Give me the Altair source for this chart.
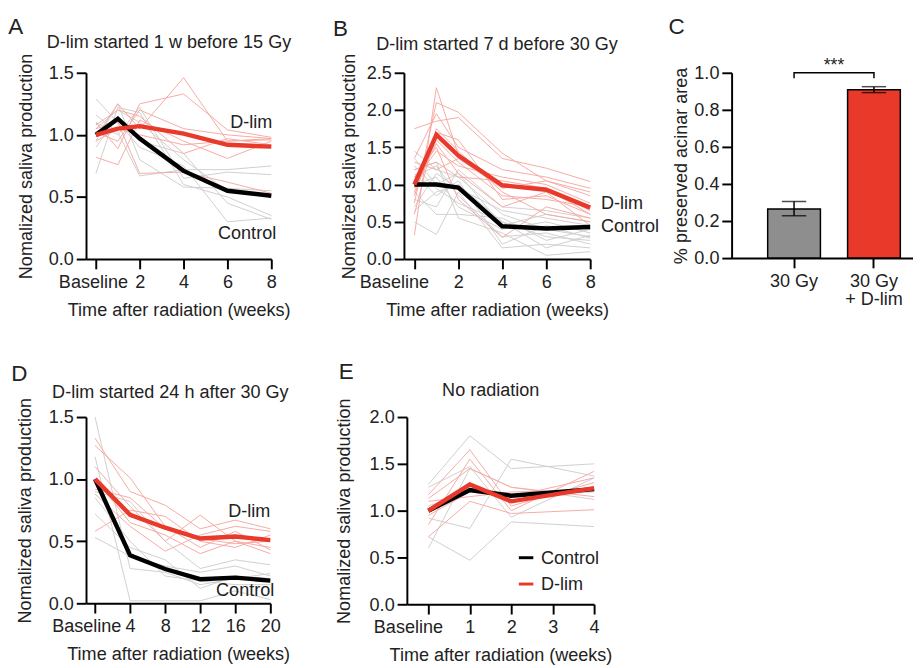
import altair as alt
import pandas as pd

FONT = "Liberation Sans"
FS = 18.5
RED = "#e8392b"
THIN_RED = "#f6aaa4"
THIN_GRAY = "#cfcfcf"
GRAY_BAR = "#8e8e8e"
TXT = "#222222"

# ---------------- Panel A ----------------
a_weeks = [0, 1, 2, 4, 6, 8]
a_ctrl_mean = [1.0, 1.13, 0.97, 0.71, 0.55, 0.51]
a_dlim_mean = [1.0, 1.05, 1.07, 1.01, 0.92, 0.905]
a_ctrl_mice = [
    [1.29, 1.10, 0.90, 0.75, 0.30, 0.33],
    [0.69, 1.22, 1.18, 0.60, 0.50, 0.35],
    [1.16, 1.02, 0.67, 0.72, 0.72, 0.75],
    [0.95, 1.25, 0.80, 0.58, 0.57, 0.55],
    [1.10, 1.00, 1.22, 0.65, 0.70, 0.68],
    [0.90, 1.15, 0.95, 0.85, 0.45, 0.32],
    [1.05, 1.20, 1.10, 0.80, 0.55, 0.52],
]
a_dlim_mice = [
    [0.98, 1.25, 1.05, 1.46, 0.95, 0.97],
    [1.10, 0.89, 1.25, 1.33, 1.04, 0.98],
    [0.82, 0.76, 1.12, 0.95, 0.81, 0.95],
    [1.05, 1.10, 0.69, 0.70, 0.62, 0.53],
    [1.08, 1.20, 1.15, 0.85, 0.97, 0.92],
    [0.95, 1.05, 1.00, 0.92, 0.95, 0.96],
    [1.02, 0.95, 1.20, 1.05, 1.00, 0.97],
]

# ---------------- Panel B ----------------
b_weeks = [0, 1, 2, 4, 6, 8]
b_ctrl_mean = [1.0, 1.0, 0.96, 0.44, 0.41, 0.43]
b_dlim_mean = [1.0, 1.67, 1.39, 0.99, 0.93, 0.69]
b_ctrl_mice = [
    [1.45, 1.20, 1.10, 0.60, 0.40, 0.30],
    [0.50, 0.33, 0.90, 0.15, 0.20, 0.15],
    [1.20, 1.30, 0.55, 0.35, 0.05, 0.10],
    [0.80, 0.70, 1.20, 0.70, 0.65, 0.55],
    [1.00, 1.10, 0.70, 0.40, 0.50, 0.35],
    [0.65, 0.90, 1.00, 0.50, 0.30, 0.25],
    [1.35, 1.00, 1.15, 0.45, 0.60, 0.50],
    [1.10, 1.25, 0.85, 0.30, 0.35, 0.20],
    [0.90, 0.60, 0.60, 0.55, 0.25, 0.40],
    [1.15, 0.85, 1.05, 0.20, 0.45, 0.28],
    [0.70, 1.15, 0.95, 0.65, 0.55, 0.45],
    [1.25, 0.95, 0.75, 0.50, 0.15, 0.32],
]
b_dlim_mice = [
    [0.32, 2.30, 1.40, 1.00, 0.95, 0.60],
    [0.75, 2.10, 1.97, 1.42, 1.05, 0.90],
    [1.75, 1.85, 1.90, 1.35, 1.22, 1.04],
    [1.35, 1.95, 1.50, 1.20, 1.10, 0.95],
    [1.10, 1.50, 0.80, 0.29, 0.70, 0.55],
    [0.90, 1.60, 1.30, 0.85, 0.80, 0.70],
    [1.20, 1.30, 1.10, 1.05, 0.95, 0.65],
    [0.60, 1.75, 1.45, 0.90, 0.60, 0.50],
    [1.05, 1.45, 1.25, 1.10, 1.00, 0.75],
    [0.85, 1.70, 1.60, 0.80, 0.85, 0.60],
    [1.30, 1.20, 1.35, 0.95, 1.05, 0.85],
    [0.95, 1.55, 1.15, 0.70, 0.90, 0.45],
]

# ---------------- Panel C ----------------
c_groups = ["30 Gy", "30 Gy + D-lim"]
c_means = [0.265, 0.908]
c_err_lo = [0.228, 0.893]
c_err_hi = [0.305, 0.925]
c_fills = [GRAY_BAR, RED]

# ---------------- Panel D ----------------
d_weeks = [0, 4, 8, 12, 16, 20]
d_ctrl_mean = [1.0, 0.386, 0.276, 0.194, 0.207, 0.183]
d_dlim_mean = [1.0, 0.713, 0.609, 0.522, 0.538, 0.509]
d_ctrl_mice = [
    [1.50, 0.28, 0.25, 0.15, 0.20, 0.24],
    [1.18, 0.02, 0.02, 0.02, 0.10, 0.03],
    [0.90, 0.82, 0.50, 0.28, 0.35, 0.31],
    [0.72, 0.45, 0.35, 0.12, 0.22, 0.20],
    [0.53, 0.38, 0.30, 0.25, 0.30, 0.22],
    [0.85, 0.50, 0.22, 0.18, 0.15, 0.15],
]
d_dlim_mice = [
    [1.33, 0.90, 0.79, 0.60, 0.67, 0.60],
    [1.27, 1.01, 0.62, 0.45, 0.58, 0.43],
    [1.10, 0.78, 0.50, 0.71, 0.50, 0.40],
    [0.88, 0.62, 0.42, 0.55, 0.62, 0.58],
    [0.58, 0.75, 0.70, 0.50, 0.45, 0.55],
    [1.00, 0.65, 0.55, 0.40, 0.50, 0.45],
    [0.92, 0.85, 0.60, 0.52, 0.48, 0.50],
]

# ---------------- Panel E ----------------
e_weeks = [0, 1, 2, 4]
e_ctrl_mean = [1.0, 1.22, 1.16, 1.23]
e_dlim_mean = [1.0, 1.28, 1.10, 1.24]
e_ctrl_mice = [
    [1.28, 1.80, 1.45, 1.50],
    [1.25, 1.47, 0.93, 1.35],
    [0.92, 0.81, 1.55, 1.37],
    [0.72, 0.47, 0.88, 0.83],
    [0.60, 1.45, 1.25, 1.12],
    [1.05, 1.20, 1.15, 1.20],
]
e_dlim_mice = [
    [1.17, 1.65, 1.05, 1.30],
    [0.85, 1.55, 1.00, 1.42],
    [1.13, 1.45, 1.25, 1.15],
    [0.72, 1.10, 0.97, 1.01],
    [0.95, 1.20, 1.15, 1.35],
    [1.10, 1.15, 1.20, 1.22],
]

Y_TITLE = "Nomalized saliva production"
X_TITLE = "Time after radiation (weeks)"


def mice_frame(weeks, mice, group):
    rows = []
    for i, m in enumerate(mice):
        for w, v in zip(weeks, m):
            rows.append({"week": w, "value": v, "mouse": f"{group}{i}", "group": group})
    return pd.DataFrame(rows)


def mean_frame(weeks, ctrl, dlim):
    rows = [{"week": w, "value": v, "group": "Control"} for w, v in zip(weeks, ctrl)]
    rows += [{"week": w, "value": v, "group": "D-lim"} for w, v in zip(weeks, dlim)]
    return pd.DataFrame(rows)


def letter_title(letter, dx, offset):
    return alt.TitleParams(letter, anchor="start", fontSize=23, font=FONT,
                           fontWeight="normal", color=TXT, dx=dx, offset=offset)


def line_panel(letter, letter_dx, letter_off, ytp, title, title_dx, title_dy, weeks,
               ctrl_mice, dlim_mice, ctrl_mean, dlim_mean, xdom, xticks, ydom, yticks,
               width, height, labels=None, legend=False, base_shift=0):
    x = alt.X("week:Q", scale=alt.Scale(domain=xdom, nice=False, zero=False),
              axis=alt.Axis(values=xticks, title=X_TITLE,
                            labelOffset=alt.ExprRef(f"datum.value == 0 ? {base_shift} : 0"),
                            labelExpr="datum.value == 0 ? 'Baseline' : datum.label"))
    y = alt.Y("value:Q", scale=alt.Scale(domain=ydom, nice=False),
              axis=alt.Axis(values=yticks, format=".1f", title=Y_TITLE, titlePadding=ytp))
    thin_c = alt.Chart(mice_frame(weeks, ctrl_mice, "c")).mark_line(
        strokeWidth=1, color=THIN_GRAY).encode(x=x, y=y, detail="mouse:N")
    thin_d = alt.Chart(mice_frame(weeks, dlim_mice, "d")).mark_line(
        strokeWidth=1, color=THIN_RED).encode(x=x, y=y, detail="mouse:N")
    mdf = mean_frame(weeks, ctrl_mean, dlim_mean)
    if legend:
        mean = alt.Chart(mdf).mark_line(strokeWidth=4.5).encode(
            x=x, y=y,
            color=alt.Color("group:N",
                            scale=alt.Scale(domain=["Control", "D-lim"], range=["black", RED]),
                            legend=alt.Legend(orient="none", legendX=113, legendY=135,
                                              title=None, symbolType="stroke",
                                              symbolStrokeWidth=3, symbolSize=220,
                                              labelFontSize=FS, labelFont=FONT,
                                              labelColor=TXT, rowPadding=8,
                                              labelOffset=6)))
        layers = [thin_c, thin_d, mean]
    else:
        m_c = alt.Chart(mdf[mdf.group == "Control"]).mark_line(
            strokeWidth=4.5, color="black").encode(x=x, y=y)
        m_d = alt.Chart(mdf[mdf.group == "D-lim"]).mark_line(
            strokeWidth=4.5, color=RED).encode(x=x, y=y)
        layers = [thin_c, thin_d, m_c, m_d]
    if labels:
        for (txt, lx, ly, align, dx) in labels:
            layers.append(
                alt.Chart(pd.DataFrame({"week": [lx], "value": [ly], "t": [txt]}))
                .mark_text(align=align, baseline="middle", dx=dx, fontSize=FS,
                           font=FONT, color=TXT)
                .encode(x=x, y=y, text="t:N"))
    layers.append(
        alt.Chart(pd.DataFrame({"t": [title]}))
        .mark_text(align="center", baseline="alphabetic", fontSize=FS, font=FONT, color=TXT)
        .encode(x=alt.value(width / 2 + title_dx), y=alt.value(title_dy), text="t:N"))
    return alt.layer(*layers).properties(
        width=width, height=height, title=letter_title(letter, letter_dx, letter_off))


panel_a = line_panel(
    "A", -9, -5, 13, "D-lim started 1 w before 15 Gy", -10, -25, a_weeks, a_ctrl_mice,
    a_dlim_mice, a_ctrl_mean, a_dlim_mean, [-0.45, 8], [0, 2, 4, 6, 8], [0, 1.5],
    [0, 0.5, 1.0, 1.5], 190, 191,
    labels=[("D-lim", 8, 1.10, "right", 1), ("Control", 8, 0.21, "right", 5)],
    base_shift=-3)

panel_b = line_panel(
    "B", -7, -5, 8, "D-lim started 7 d before 30 Gy", 0, -23, b_weeks, b_ctrl_mice,
    b_dlim_mice, b_ctrl_mean, b_dlim_mean, [-0.475, 8], [0, 2, 4, 6, 8], [0, 2.5],
    [0, 0.5, 1.0, 1.5, 2.0, 2.5], 191, 191,
    labels=[("D-lim", 8, 0.75, "left", 11), ("Control", 8, 0.44, "left", 11)],
    base_shift=-21)

panel_d = line_panel(
    "D", -5, -3, 14, "D-lim started 24 h after 30 Gy", -8, -20, d_weeks, d_ctrl_mice,
    d_dlim_mice, d_ctrl_mean, d_dlim_mean, [-1.03, 20], [0, 4, 8, 12, 16, 20], [0, 1.5],
    [0, 0.5, 1.0, 1.5], 189, 191,
    labels=[("D-lim", 20, 0.74, "right", 0), ("Control", 20, 0.105, "right", 4)],
    base_shift=-9)

panel_e = line_panel(
    "E", 4, -3, 16, "No radiation", -10, -22, e_weeks, e_ctrl_mice, e_dlim_mice,
    e_ctrl_mean, e_dlim_mean, [-0.52, 4], [0, 1, 2, 3, 4], [0, 2.0],
    [0, 0.5, 1.0, 1.5, 2.0], 192, 192, legend=True, base_shift=-21)

# Panel C bar chart
cdf = pd.DataFrame({"group": c_groups, "mean": c_means, "lo": c_err_lo,
                    "hi": c_err_hi, "fill": c_fills})
cx = alt.X("group:N", sort=c_groups,
           scale=alt.Scale(domain=c_groups, paddingInner=0.34, paddingOuter=0.305, align=0.74),
           axis=alt.Axis(title=None, labelAngle=0, labelLineHeight=19,
                         labelExpr="datum.value == '30 Gy + D-lim' ? ['30 Gy', '+ D-lim'] : datum.value"))
cy_axis = alt.Axis(values=[0, 0.2, 0.4, 0.6, 0.8, 1.0], format=".1f",
                   title="% preserved acinar area", labelOverlap=False, titlePadding=4)
cy_scale = alt.Scale(domain=[0, 1.0], nice=False)


def cy(field):
    return alt.Y(field, scale=cy_scale, axis=cy_axis)


bars = alt.Chart(cdf).mark_bar(stroke="black", strokeWidth=1.5).encode(
    x=cx, y=cy("mean:Q"), fill=alt.Fill("fill:N", scale=None))
err = alt.Chart(cdf).mark_rule(color="black", strokeWidth=1.5).encode(
    x=cx, y=cy("lo:Q"), y2="hi:Q")
cap_lo = alt.Chart(cdf).mark_tick(color="black", thickness=1.5, size=25).encode(
    x=cx, y=cy("lo:Q"))
cap_hi = alt.Chart(cdf).mark_tick(color="black", thickness=1.5, size=25).encode(
    x=cx, y=cy("hi:Q"))
bracket_df = pd.DataFrame({"group": [c_groups[0], c_groups[0], c_groups[1], c_groups[1]],
                           "v": [0.97, 1.0, 1.0, 0.97], "o": [0, 1, 2, 3]})
bracket = alt.Chart(bracket_df).mark_line(color="black", strokeWidth=1.5).encode(
    x=cx, y=cy("v:Q"), order="o:Q")
stars = alt.Chart(pd.DataFrame({"group": [c_groups[0]], "v": [1.0], "t": ["***"]})).mark_text(
    baseline="alphabetic", dx=41, dy=-2, fontSize=18, font=FONT, color=TXT).encode(
    x=cx, y=cy("v:Q"), text="t:N")
panel_c = alt.layer(bars, err, cap_lo, cap_hi, bracket, stars).properties(
    width=186, height=190, title=letter_title("C", -3, 19))

row1 = alt.hconcat(panel_a, alt.hconcat(panel_b, panel_c, spacing=9), spacing=42)
row2 = alt.hconcat(panel_d, panel_e, spacing=46).resolve_scale(color="independent")
chart = alt.vconcat(row1, row2, spacing=44).resolve_scale(color="independent").properties(
    padding={"left": 0, "top": 0, "right": 0, "bottom": 0}
).configure_view(stroke=None).configure_axis(
    domainColor="black", domainWidth=2, tickColor="black", tickWidth=2, tickSize=10,
    labelFont=FONT, labelFontSize=FS, labelColor=TXT,
    titleFont=FONT, titleFontSize=FS, titleFontWeight="normal", titleColor=TXT,
    grid=False, labelOverlap=False, labelFlush=False
).configure_axisY(labelPadding=3).configure_axisX(labelPadding=4, titlePadding=10)

chart.save("out.html", embed_options={"renderer": "svg", "actions": False})
